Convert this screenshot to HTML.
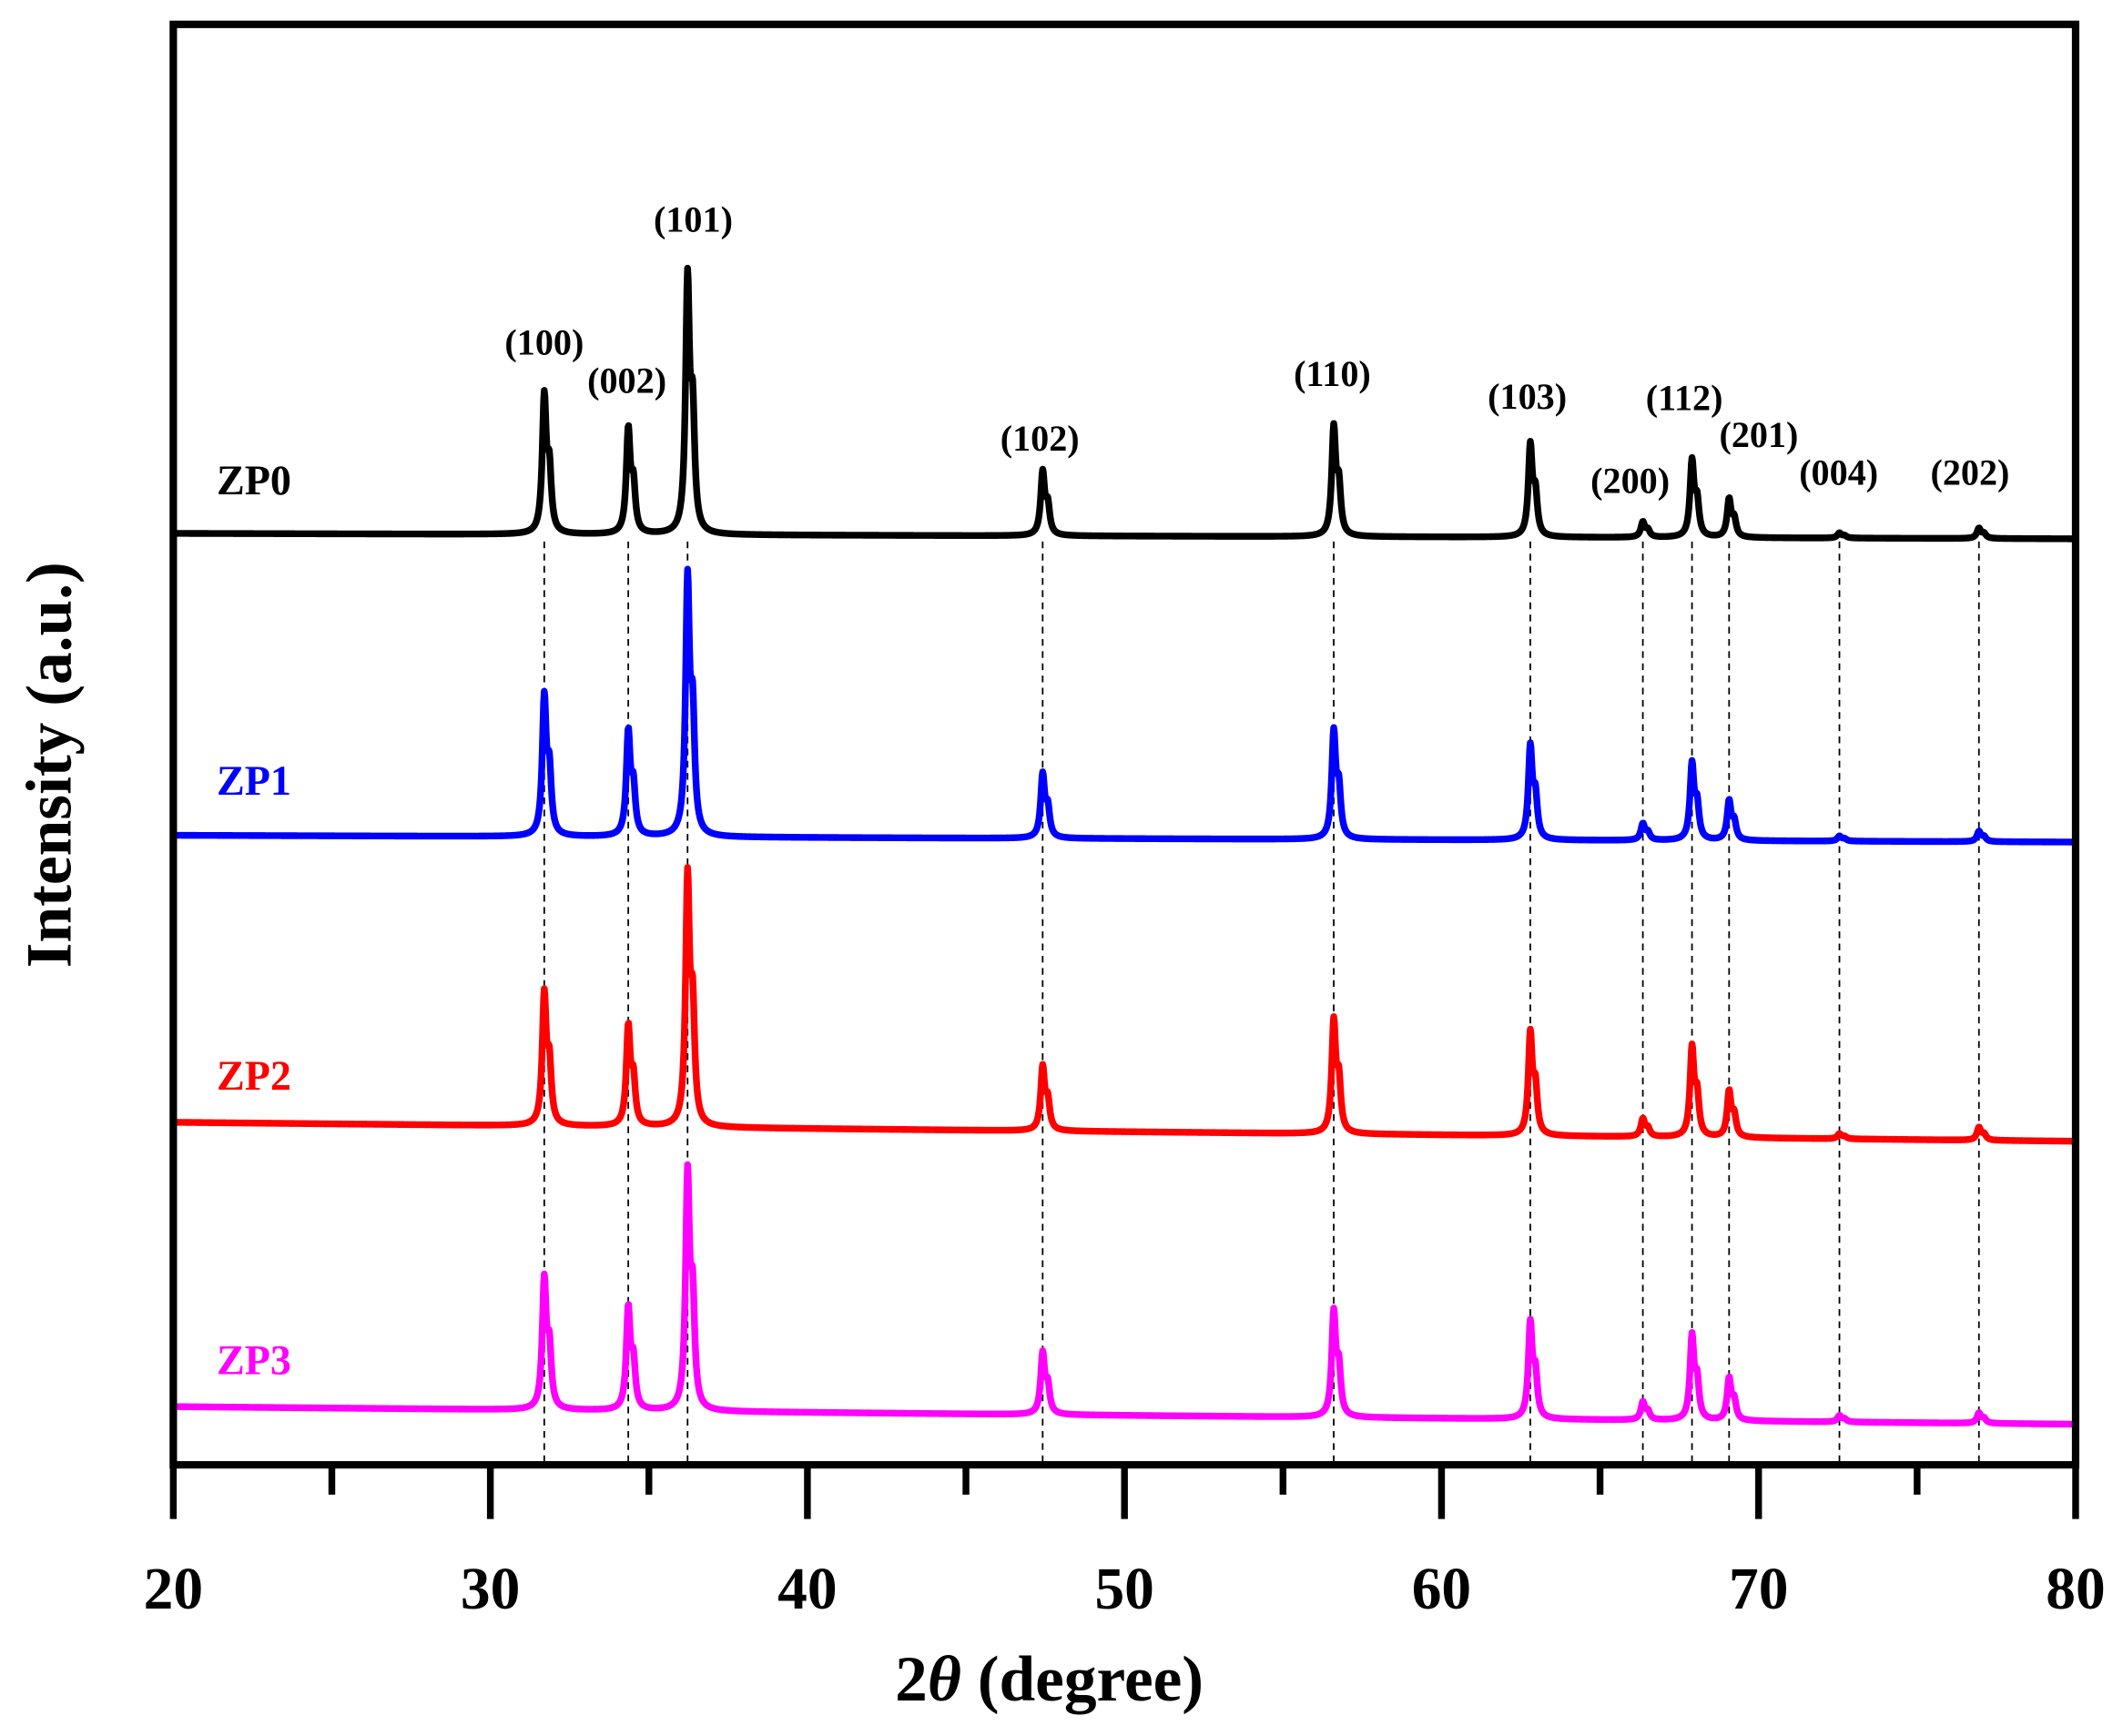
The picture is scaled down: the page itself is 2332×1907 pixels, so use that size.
<!DOCTYPE html>
<html><head><meta charset="utf-8"><style>
html,body{margin:0;padding:0;background:#fff;}
svg{display:block;}
text{font-family:"Liberation Serif",serif;font-weight:bold;}
</style></head><body>
<svg id="s" width="2332" height="1907" viewBox="0 0 1568 1282.3" preserveAspectRatio="none" xmlns="http://www.w3.org/2000/svg">
<g id="dash" stroke="#000" stroke-width="1.2" stroke-dasharray="5,4"></g>
<g id="traces" fill="none" stroke-width="5" stroke-linejoin="round"></g>
<rect x="128" y="18" width="1405" height="1064" fill="none" stroke="#000" stroke-width="5.5"/>
<g id="ticks" stroke="#000" stroke-width="5"></g>
<g font-size="44" text-anchor="middle" id="tl"></g>
<text x="775" y="1256" font-size="48" text-anchor="middle">2<tspan font-style="italic">θ</tspan> (degree)</text>
<text transform="translate(52,565) rotate(-90)" font-size="48" text-anchor="middle">Intensity (a.u.)</text>
<g font-size="31">
<text x="160" y="365" fill="#000">ZP0</text>
<text x="160" y="587" fill="#0000ff">ZP1</text>
<text x="160" y="805" fill="#ff0000">ZP2</text>
<text x="160" y="1015" fill="#ff00ff">ZP3</text>
</g>
<g font-size="27" text-anchor="middle">
<text x="402" y="262">(100)</text>
<text x="463" y="290">(002)</text>
<text x="512" y="171">(101)</text>
<text x="768" y="333">(102)</text>
<text x="984" y="285">(110)</text>
<text x="1128" y="302">(103)</text>
<text x="1204" y="364">(200)</text>
<text x="1244" y="303">(112)</text>
<text x="1299" y="330">(201)</text>
<text x="1358" y="358">(004)</text>
<text x="1455" y="358">(202)</text>
</g>
</svg>
<script>
var NS="http://www.w3.org/2000/svg";
function X(d){return 128+(d-20)*23.417;}
var pk=[31.7,34.35,36.22,47.42,56.6,62.8,66.35,67.9,69.07,72.55,76.95];
var series=[
 {c:"#000",b0:394,b1:398,h:[108,82,200,50,85,72,12,60,30,4,8]},
 {c:"#0000ff",b0:617,b1:622,h:[109,82,201,50,84,73,13,60,31,4,8]},
 {c:"#ff0000",b0:829,b1:843,h:[103,78,195,50,88,80,14,70,36,4,10]},
 {c:"#ff00ff",b0:1039,b1:1052,h:[102,80,185,48,82,75,14,66,33,5,8]}
];
var tr=document.getElementById("traces");
series.forEach(function(s){
  var d="";
  for(var t=20;t<=80.0001;t+=0.02){
    var y=s.b0+(s.b1-s.b0)*(t-20)/60;
    var I=0;
    for(var i=0;i<pk.length;i++){
      var w=0.075, dx=(t-pk[i])/w, dx2=(t-pk[i]-0.16)/w, h=s.h[i]*0.91;
      I+=h/(1+dx*dx)+h*0.45/(1+dx2*dx2);
    }
    y-=I;
    d+=(d?"L":"M")+X(t).toFixed(2)+","+y.toFixed(2);
  }
  var p=document.createElementNS(NS,"path");p.setAttribute("d",d);p.setAttribute("stroke",s.c);tr.appendChild(p);
});
var dg=document.getElementById("dash");
pk.forEach(function(p){var l=document.createElementNS(NS,"line");l.setAttribute("x1",X(p));l.setAttribute("x2",X(p));l.setAttribute("y1",400);l.setAttribute("y2",1080);dg.appendChild(l);});
var tg=document.getElementById("ticks"),tl=document.getElementById("tl");
for(var v=20;v<=80;v+=5){
  var l=document.createElementNS(NS,"line");var x=X(v);
  l.setAttribute("x1",x);l.setAttribute("x2",x);l.setAttribute("y1",1082);l.setAttribute("y2",v%10==0?1122:1104);tg.appendChild(l);
  if(v%10==0){var t=document.createElementNS(NS,"text");t.setAttribute("x",x);t.setAttribute("y",1188);t.textContent=v;tl.appendChild(t);}
}
</script>
</body></html>
